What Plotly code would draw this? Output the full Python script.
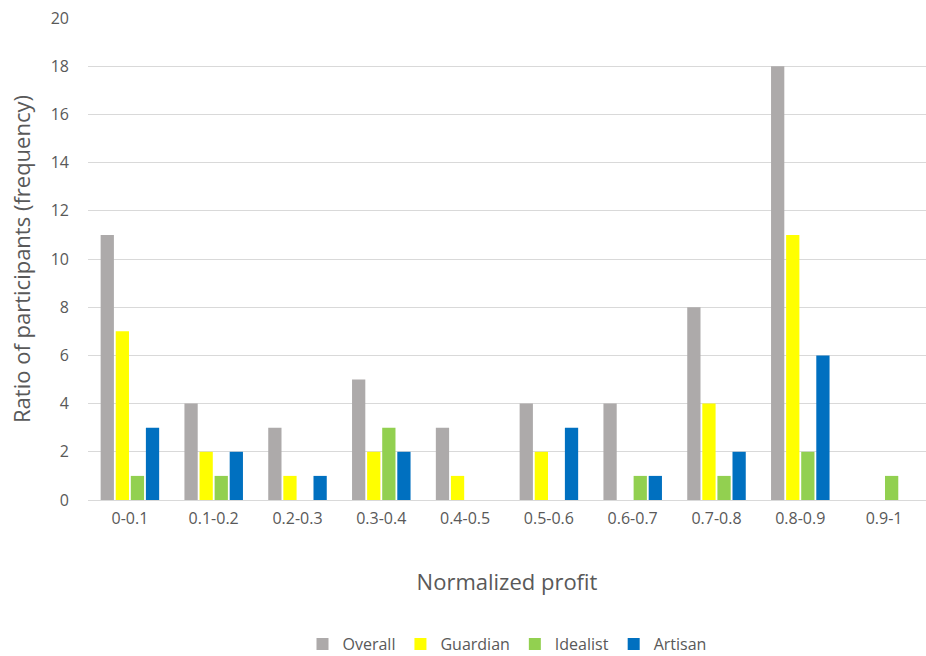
import plotly.graph_objects as go

categories = ["0-0.1", "0.1-0.2", "0.2-0.3", "0.3-0.4", "0.4-0.5",
              "0.5-0.6", "0.6-0.7", "0.7-0.8", "0.8-0.9", "0.9-1"]
overall = [11, 4, 3, 5, 3, 4, 4, 8, 18, 0]
guardian = [7, 2, 1, 2, 1, 2, 0, 4, 11, 0]
idealist = [1, 1, 0, 3, 0, 0, 1, 1, 2, 1]
artisan = [3, 2, 1, 2, 0, 3, 1, 2, 6, 0]

series = [
    ("Overall", overall, "#ADAAAA"),
    ("Guardian", guardian, "#FFFF00"),
    ("Idealist", idealist, "#92D050"),
    ("Artisan", artisan, "#0070C0"),
]

font_family = "Open Sans, DejaVu Sans, sans-serif"
text_color = "#595959"

fig = go.Figure()
for name, vals, color in series:
    fig.add_trace(go.Bar(x=categories, y=vals, name=name,
                         marker=dict(color=color, line=dict(width=0))))

fig.update_layout(
    width=926, height=656,
    margin=dict(l=88, r=0, t=18, b=156),
    paper_bgcolor="white", plot_bgcolor="white",
    barmode="group", bargap=0.28, bargroupgap=0.12,
    font=dict(family=font_family, color=text_color, size=16),
    showlegend=True,
    legend=dict(orientation="h", x=0.5, xanchor="center",
                yref="container", y=0.018, yanchor="middle",
                font=dict(size=16, color=text_color), itemwidth=30,
                traceorder="normal"),
    xaxis=dict(
        title=dict(text="Normalized profit", font=dict(size=22, color=text_color), standoff=46),
        tickfont=dict(size=16, color=text_color),
        ticklabelstandoff=4,
        automargin=False,
        showline=True, linecolor="#D9D9D9", linewidth=1,
        ticks="", showgrid=False,
    ),
    yaxis=dict(
        title=dict(text="Ratio of participants (frequency)", font=dict(size=22, color=text_color), standoff=14),
        range=[0, 20], dtick=2,
        tickfont=dict(size=16, color=text_color),
        ticklabelstandoff=18,
        automargin=False,
        showgrid=True, gridcolor="#D9D9D9", gridwidth=1,
        zeroline=False, showline=False, ticks="",
    ),
)

fig.write_html("out.html")
